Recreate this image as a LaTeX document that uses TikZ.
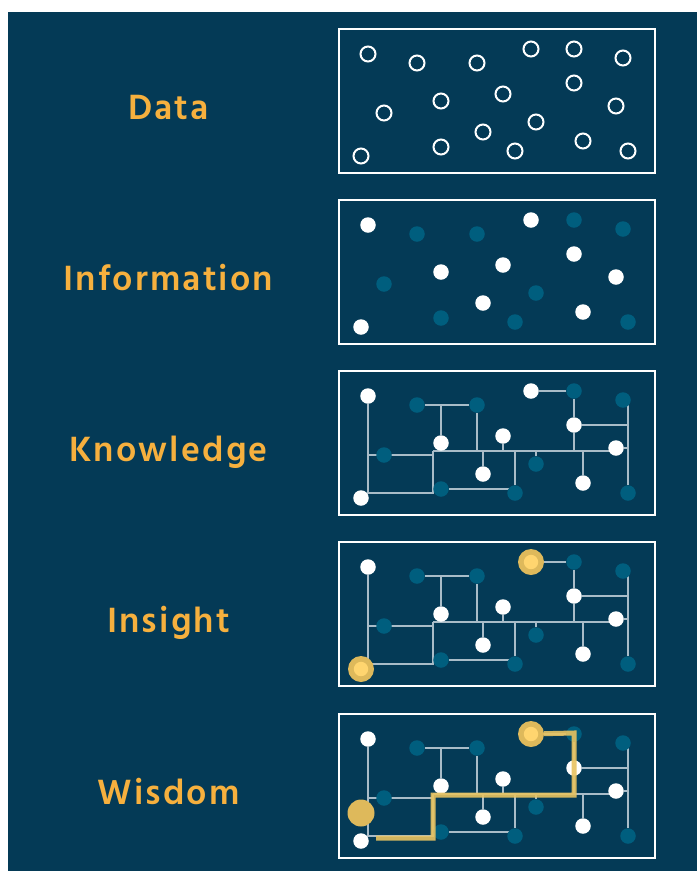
\documentclass[tikz,border=0pt]{standalone}
\usepackage{fontspec}
\usepackage{xcolor}
\usepackage{tikz}
\newfontfamily\stagefont{Hind Siliguri}[LetterSpace=6]
\definecolor{navy}{HTML}{043A56}
\definecolor{dotteal}{HTML}{005E7E}
\definecolor{stageorange}{HTML}{F6B03E}
\definecolor{wirecol}{HTML}{A9BCC8}
\definecolor{gold}{HTML}{DEB95B}
\definecolor{goldlight}{HTML}{FFD56F}
\definecolor{trailgold}{HTML}{E8C360}
\pgfdeclarelayer{back}
\pgfdeclarelayer{wires}
\pgfsetlayers{back,wires,main}

\begin{document}
\begin{tikzpicture}[x=1pt, y=-1pt,
    frame/.style={draw=white, line width=2pt},
    stage/.style={anchor=base, text=stageorange, font=\stagefont\bfseries\fontsize{36}{42}\selectfont},
    hollow/.style={circle, draw=white, line width=2pt, minimum size=15pt, inner sep=0pt},
    whitedot/.style={circle, fill=white, minimum size=15.5pt, inner sep=0pt},
    tealdot/.style={circle, fill=dotteal, minimum size=15.5pt, inner sep=0pt},
    glow/.style={circle, fill=gold, minimum size=26pt, inner sep=0pt,
      path picture={\fill[goldlight] (path picture bounding box.center) circle (7.2pt);}},
    spot/.style={circle, fill=gold, minimum size=27pt, inner sep=0pt},
    peakdot/.style=whitedot,
    startdot/.style=whitedot,
    wire/.style={draw=wirecol, line width=1.3pt},
    trail/.style={draw=trailgold, line width=5pt, opacity=0.9},
    data/.style={whitedot/.style=hollow, tealdot/.style=hollow, peakdot/.style=hollow, startdot/.style=hollow},
    info/.style={},
    know/.style={},
    insight/.style={peakdot/.style=glow, startdot/.style=glow},
    wisdom/.style={peakdot/.style=glow}]
    \useasboundingbox (0,0) rectangle (697,871);
    \begin{pgfonlayer}{back}
        \fill[navy] (8,12) rectangle (697,871);
    \end{pgfonlayer}

    % one panel per stage
    \foreach \p/\ytop/\look/\word in {d/29/data/Data, i/200/info/Information, k/371/know/Knowledge, s/542/insight/Insight, w/714/wisdom/Wisdom} {
        \node[stage] (\p-stage) at (168.5, \ytop+90.5) {\word};
        \begin{scope}[shift={(339,\ytop)}, \look]
            \begin{pgfonlayer}{back}
                \draw[frame] (0,0) rectangle (316,144);
            \end{pgfonlayer}
            \coordinate (\p-bl) at (94,80);
            \coordinate (\p-bc) at (94,122);
            \foreach \n/\x/\y/\kind in {1/29/25/whitedot, 2/78/34/tealdot, 3/138/34/tealdot, 4/192/20/peakdot, 5/235/20/tealdot, 6/284/29/tealdot, 7/235/54/whitedot, 8/164/65/whitedot, 9/102/72/whitedot, 10/277/77/whitedot, 11/45/84/tealdot, 12/197/93/tealdot, 13/144/103/whitedot, 14/102/118/tealdot, 15/244/112/whitedot, 16/176/122/tealdot, 17/22/127/startdot, 18/289/122/tealdot}
                \node[\kind] (\p\n) at (\x,\y) {};
        \end{scope}
    }

    % links from knowledge on
    \begin{pgfonlayer}{wires}
    \foreach \p in {k,s,w} {
        \draw[wire] (\p2) -- (\p3);
        \draw[wire] (\p9) -- (\p9 |- \p2);
        \draw[wire] (\p4) -- (\p5) -- (\p7);
        \draw[wire] (\p1) |- (\p-bc) -- (\p-bl);
        \draw[wire] (\p-bl) -- (\p10 |- \p-bl);
        \draw[wire] (\p11 -| \p1) -- (\p11 -| \p-bl);
        \draw[wire] (\p3) -- (\p3 |- \p-bl);
        \draw[wire] (\p8) -- (\p8 |- \p-bl);
        \draw[wire] (\p13) -- (\p13 |- \p-bl);
        \draw[wire] (\p12) -- (\p12 |- \p-bl);
        \draw[wire] (\p16) -- (\p16 |- \p-bl);
        \draw[wire] (\p15) -- (\p15 |- \p-bl);
        \draw[wire] (\p7) -- (\p7 |- \p-bl);
        \draw[wire] (\p14) -- (\p14 -| \p16);
        \draw[wire] (\p18) -- (\p18 |- \p6);
        \draw[wire] (\p7) -- (\p7 -| \p18);
        \draw[wire] (\p10) -- (\p10 -| \p18);
    }
    \end{pgfonlayer}

    % wisdom path
    \begin{scope}[shift={(339,714)}]
        \node[spot] (w-spot) at (22,99) {};
        \coordinate (w-tail) at (37,124);
        \coordinate (w-up) at (94,81);
        \coordinate (w-top) at (235,19);
        \draw[trail] (w-tail) -| (w-up) -| (w-top) -- (w4);
    \end{scope}
\end{tikzpicture}
\end{document}
